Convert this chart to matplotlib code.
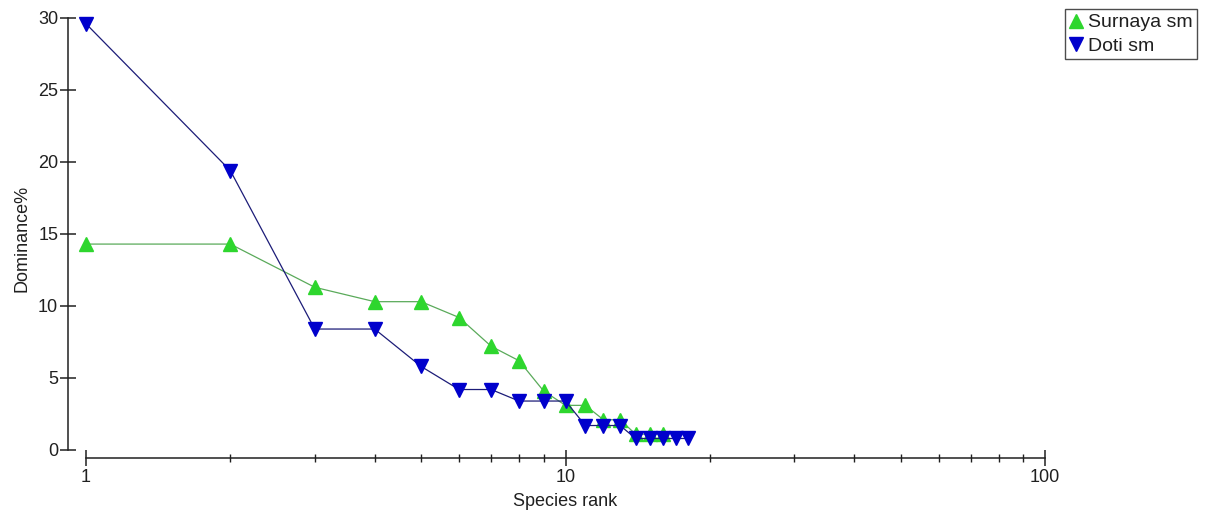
import matplotlib
matplotlib.use("Agg")
import matplotlib.pyplot as plt
from matplotlib.lines import Line2D
from matplotlib.ticker import FixedLocator, NullFormatter
import numpy as np

plt.rcParams['font.family'] = ['Liberation Sans', 'DejaVu Sans']

# rank/abundance, dominance in percent
surnaya_pct = [14.3, 14.3, 11.3, 10.3, 10.3, 9.2, 7.2, 6.2, 4.1, 3.1,
               3.1, 2.1, 2.1, 1.1, 1.1, 1.1]
doti_pct = [29.6, 19.4, 8.4, 8.4, 5.8, 4.2, 4.2, 3.4, 3.4, 3.4,
            1.7, 1.7, 1.7, 0.8, 0.8, 0.8, 0.8, 0.8]
series_names = ["Surnaya sm", "Doti sm"]
y_ticks = [0, 5, 10, 15, 20, 25, 30]
x_major = [1, 10, 100]

W, H = 1205, 514
fig = plt.figure(figsize=(W / 100, H / 100), dpi=100)
ax = fig.add_axes([86 / W, 64 / H, 959 / W, 432 / H])

green_mk, green_ln = "#2ed62e", "#5aaa5a"
blue_mk, blue_ln = "#0000cc", "#1c1c78"
ms = 10

ranks_s = np.arange(1, len(surnaya_pct) + 1)
ranks_d = np.arange(1, len(doti_pct) + 1)
ax.plot(ranks_s, surnaya_pct, color=green_ln, lw=0.9, zorder=2, clip_on=False)
ax.plot(ranks_s, surnaya_pct, ls="none", marker="^", ms=ms,
        mfc=green_mk, mec=green_mk, zorder=3, clip_on=False)
ax.plot(ranks_d, doti_pct, color=blue_ln, lw=0.9, zorder=4, clip_on=False)
ax.plot(ranks_d, doti_pct, ls="none", marker="v", ms=ms,
        mfc=blue_mk, mec=blue_mk, zorder=5, clip_on=False)

ax.set_xscale("log")
ax.set_xlim(1, 100)
ax.set_ylim(0, 30)

for side in ["top", "right"]:
    ax.spines[side].set_visible(False)
ax.spines["left"].set_position(("outward", 13))
ax.spines["bottom"].set_position(("outward", 6))
ax.spines["left"].set_bounds(0, 30)
ax.spines["bottom"].set_bounds(1, 100)
for side in ["left", "bottom"]:
    ax.spines[side].set_linewidth(1.1)
    ax.spines[side].set_color("#202020")

ax.yaxis.set_major_locator(FixedLocator(y_ticks))
ax.xaxis.set_major_locator(FixedLocator(x_major))
minor = [m * d for d in (1, 10) for m in range(2, 10)]
ax.xaxis.set_minor_locator(FixedLocator(minor))
ax.xaxis.set_minor_formatter(NullFormatter())
ax.set_xticklabels([str(v) for v in x_major])

ax.tick_params(axis="both", which="major", direction="inout", length=12,
               width=1.1, color="#202020", labelsize=13, labelcolor="#202020")
ax.tick_params(axis="y", which="major", pad=1)
ax.tick_params(axis="x", which="major", pad=2)
ax.tick_params(axis="x", which="minor", direction="inout", length=6,
               width=1.0, color="#202020")

ax.set_xlabel("Species rank", fontsize=13, color="#202020")
ax.set_ylabel("Dominance%", fontsize=13, color="#202020")
ax.xaxis.set_label_coords(0.5, -0.1)
ax.yaxis.set_label_coords(-0.058, 0.49)

handles = [
    Line2D([], [], ls="none", marker="^", ms=ms, mfc=green_mk, mec=green_mk),
    Line2D([], [], ls="none", marker="v", ms=ms, mfc=blue_mk, mec=blue_mk),
]
leg = fig.legend(handles, series_names, loc="upper right",
                 bbox_to_anchor=(1197 / W, 1 - 9 / H), fontsize=14,
                 frameon=True, fancybox=False, borderpad=0.25,
                 handlelength=0.6, handletextpad=0.3, labelspacing=0.28,
                 borderaxespad=0)
leg.get_frame().set_edgecolor("#202020")
leg.get_frame().set_linewidth(1.0)
for t in leg.get_texts():
    t.set_color("#202020")

fig.savefig("out.png", dpi=100)
